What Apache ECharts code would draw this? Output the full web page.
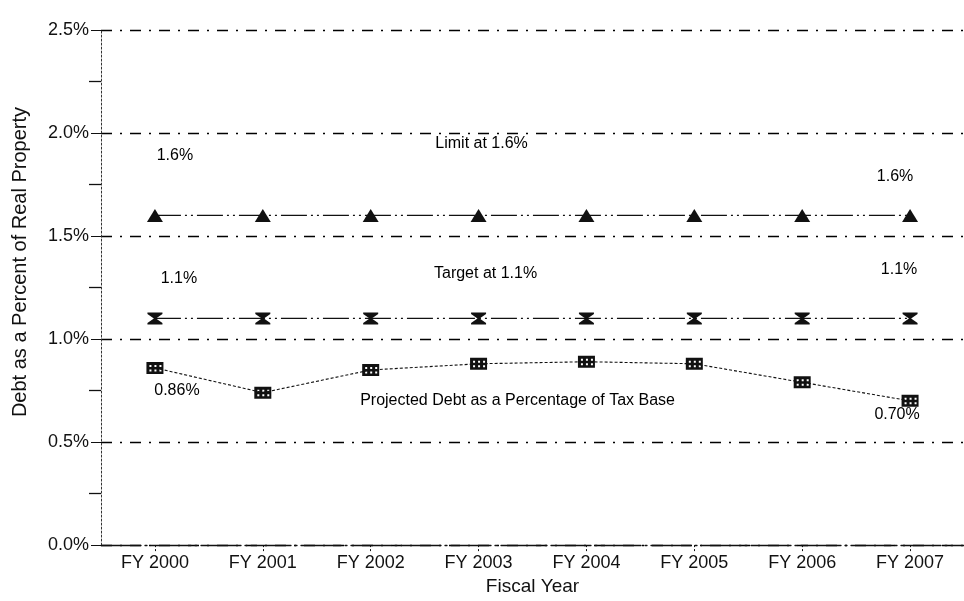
<!DOCTYPE html>
<html>
<head>
<meta charset="utf-8">
<script src="https://cdn.jsdelivr.net/npm/echarts@6/dist/echarts.min.js"></script>
<style>
html,body{margin:0;padding:0;background:#fff;}
#chart{width:964px;height:601px;}
</style>
</head>
<body>
<div id="chart"></div>
<script>
// ---- data ----
const categories = ['FY 2000','FY 2001','FY 2002','FY 2003','FY 2004','FY 2005','FY 2006','FY 2007'];
const limitValues  = [1.6, 1.6, 1.6, 1.6, 1.6, 1.6, 1.6, 1.6];
const targetValues = [1.1, 1.1, 1.1, 1.1, 1.1, 1.1, 1.1, 1.1];
const debtValues   = [0.86, 0.74, 0.85, 0.88, 0.89, 0.88, 0.79, 0.70];
const yTicks = [0, 0.5, 1.0, 1.5, 2.0, 2.5];

// annotation texts with the value level they sit at
const annoTexts  = ['1.6%', 'Limit at 1.6%', '1.6%', '1.1%', 'Target at 1.1%', '1.1%', '0.86%', 'Projected Debt as a Percentage of Tax Base', '0.70%'];
const annoCats   = ['FY 2000','FY 2003','FY 2007','FY 2000','FY 2003','FY 2007','FY 2000','FY 2003','FY 2007'];
const annoLevels = [1.89, 1.95, 1.79, 1.295, 1.32, 1.335, 0.75, 0.70, 0.634];
const annoDx     = [20, 3, -15, 24, 7, -11, 22, 39, -13];

const INK = '#111';
const FONT = '"Liberation Sans", Arial, Helvetica, sans-serif';

const hourglass = 'path://M0,0 L14,0 L14,1.5 L8,6 L14,10.5 L14,12 L0,12 L0,10.5 L6,6 L0,1.5 Z';
const dottedRect = 'path://M0,0 L17,0 L17,12 L0,12 Z M3,3 L3,5 L5,5 L5,3 Z M8,3 L8,5 L10,5 L10,3 Z M13,3 L13,5 L15,5 L15,3 Z M3,7.5 L3,9.5 L5,9.5 L5,7.5 Z M8,7.5 L8,9.5 L10,9.5 L10,7.5 Z M13,7.5 L13,9.5 L15,9.5 L15,7.5 Z';

const chart = echarts.init(document.getElementById('chart'), null, {renderer: 'canvas'});

const annoData = annoTexts.map((t, i) => ({
  name: t,
  value: [annoCats[i], annoLevels[i]],
  label: { offset: [annoDx[i], 0] }
}));

const option = {
  backgroundColor: '#fff',
  animation: false,
  textStyle: { fontFamily: FONT },
  grid: { left: 101, right: -11, top: 30, bottom: 47, containLabel: false },
  xAxis: {
    type: 'category',
    data: categories,
    boundaryGap: true,
    name: 'Fiscal Year',
    nameLocation: 'middle',
    nameGap: 28,
    nameTextStyle: { color: INK, fontSize: 19, fontFamily: FONT },
    axisLine: { show: true, lineStyle: { color: INK, width: 1.3, type: [40, 4, 2, 4] } },
    axisTick: { show: true, alignWithLabel: true, length: 7, lineStyle: { color: INK, type: [2, 2] } },
    axisLabel: { color: INK, fontSize: 18, margin: 9, fontFamily: FONT },
    splitLine: { show: false }
  },
  yAxis: {
    type: 'value',
    min: 0,
    max: 2.5,
    interval: 0.5,
    axisLine: { show: true, lineStyle: { color: '#333', width: 1, type: [2, 2] } },
    axisTick: { show: true, length: 10, lineStyle: { color: INK } },
    minorTick: { show: true, splitNumber: 2, length: 12, lineStyle: { color: INK, width: 1.3 } },
    axisLabel: {
      color: INK, fontSize: 18, margin: 12, fontFamily: FONT,
      formatter: v => (yTicks.indexOf(v) >= 0 ? v.toFixed(1) + '%' : '')
    },
    splitLine: { show: true, lineStyle: { color: '#000', width: 1.3, type: [11, 8, 2, 8] } }
  },
  graphic: [{
    type: 'text',
    x: 20,
    y: 262,
    rotation: Math.PI / 2,
    style: {
      text: 'Debt as a Percent of Real Property',
      fill: INK,
      font: '20px ' + FONT,
      textAlign: 'center',
      textVerticalAlign: 'middle'
    }
  }],
  series: [
    {
      name: 'Limit',
      type: 'line',
      data: limitValues,
      symbol: 'triangle',
      symbolSize: [16, 13],
      itemStyle: { color: INK, borderColor: INK, borderWidth: 0 },
      lineStyle: { color: INK, width: 1.2, type: [26, 4, 2, 4, 2, 4] },
      silent: true
    },
    {
      name: 'Target',
      type: 'line',
      data: targetValues,
      symbol: hourglass,
      symbolSize: [15, 12],
      itemStyle: { color: INK, borderColor: INK, borderWidth: 0 },
      lineStyle: { color: INK, width: 1.2, type: [26, 4, 2, 4, 2, 4] },
      silent: true
    },
    {
      name: 'Debt',
      type: 'line',
      data: debtValues,
      symbol: dottedRect,
      symbolSize: [17, 12],
      itemStyle: { color: INK, borderColor: INK, borderWidth: 0 },
      lineStyle: { color: INK, width: 1.1, type: [3, 2] },
      silent: true
    },
    {
      name: 'Annotations',
      type: 'scatter',
      data: annoData,
      symbolSize: 0,
      silent: true,
      itemStyle: { color: INK, opacity: 1 },
      label: {
        show: true,
        position: 'inside',
        formatter: p => p.name,
        color: '#000',
        opacity: 1,
        textBorderWidth: 0,
        fontSize: 16,
        fontFamily: FONT
      }
    }
  ]
};

chart.setOption(option);
</script>
</body>
</html>
